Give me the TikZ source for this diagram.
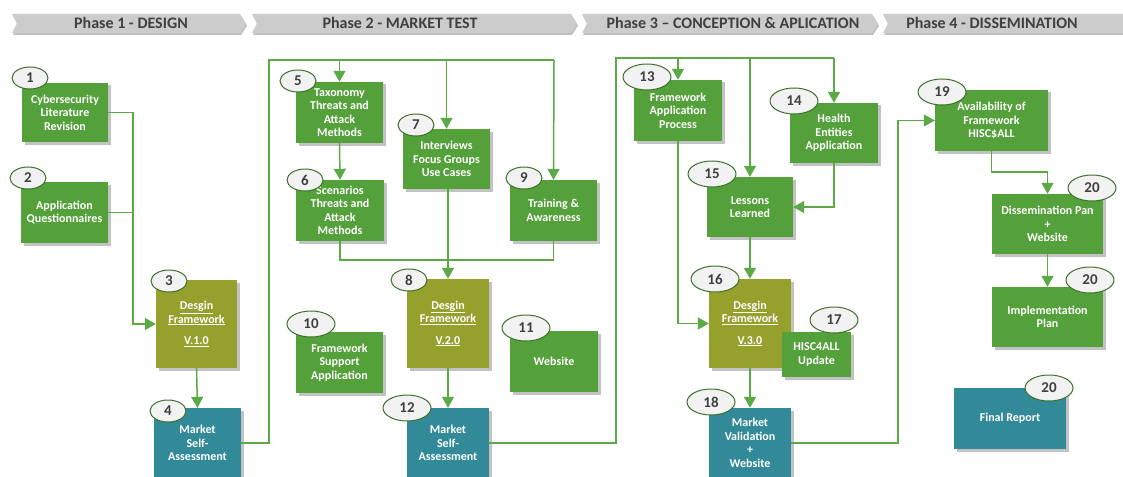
\documentclass[tikz,border=0pt]{standalone}
\usepackage{fontspec}
\setmainfont{Carlito}
\usetikzlibrary{shapes.geometric,shadows,arrows.meta,calc}
\definecolor{boxgreen}{RGB}{84,160,58}
\definecolor{boxolive}{RGB}{150,160,45}
\definecolor{boxteal}{RGB}{50,138,152}
\definecolor{linegreen}{RGB}{92,170,70}
\definecolor{badgeline}{RGB}{62,112,46}
\definecolor{badgefill}{RGB}{242,242,242}
\definecolor{badgetext}{RGB}{64,64,64}
\definecolor{bannergray}{RGB}{204,204,204}
\definecolor{bannertext}{RGB}{64,64,64}
\begin{document}
\begin{tikzpicture}[x=1pt,y=-1pt,
  box/.style={draw=none, text=white, font=\fontsize{12}{13.5}\selectfont\bfseries, align=center, inner sep=1pt,
    drop shadow={shadow xshift=2.5pt,shadow yshift=-2.5pt,opacity=0.4,fill=black!60}},
  gbox/.style={box, fill=boxgreen},
  obox/.style={box, fill=boxolive},
  tbox/.style={box, fill=boxteal},
  badge/.style={ellipse, draw=badgeline, line width=1pt, fill=badgefill, text=badgetext,
    font=\fontsize{15}{15}\selectfont\bfseries, inner sep=0pt, minimum width=36pt, minimum height=22pt},
  wbadge/.style={badge, minimum width=48pt, minimum height=26pt},
  conn/.style={draw=linegreen, line width=1.5pt},
  arr/.style={conn, -{Triangle[length=11pt,width=12pt]}},
  banner/.style={fill=bannergray, drop shadow={shadow xshift=1pt,shadow yshift=-2pt,opacity=0.5,fill=black!50}},
  phasetext/.style={text=bannertext, font=\fontsize{16}{16}\selectfont\bfseries, anchor=base, inner sep=0pt}
]
\useasboundingbox (0,0) rectangle (1123,476);

% phase banners
\path[banner] (12,14) -- (240,14) -- (246,23.5) -- (240,33) -- (12,33) -- (17,23.5) -- cycle;
\path[banner] (252,14) -- (571,14) -- (577,23.5) -- (571,33) -- (252,33) -- (257,23.5) -- cycle;
\path[banner] (582,14) -- (872,14) -- (878,23.5) -- (872,33) -- (582,33) -- (587,23.5) -- cycle;
\path[banner] (883,14) -- (1130,14) -- (1130,33) -- (883,33) -- (888,23.5) -- cycle;
\node[phasetext] (p1) at (131,28.5) {Phase 1 - DESIGN};
\node[phasetext] (p2) at (400,28.5) {Phase 2 - MARKET TEST};
\node[phasetext] (p3) at (733,28.5) {Phase 3 – CONCEPTION \& APLICATION};
\node[phasetext] (p4) at (992,28.5) {Phase 4 - DISSEMINATION};

% boxes
\node[gbox, minimum width=86pt, minimum height=59pt] (n1) at (65,112.5) {Cybersecurity\\Literature\\Revision};
\node[gbox, minimum width=87pt, minimum height=61pt] (n2) at (64.5,212.5) {Application\\Questionnaires};
\node[obox, minimum width=81pt, minimum height=88pt] (n3) at (196.5,324) {\underline{Desgin}\\\underline{Framework}\\[8pt]\underline{V.1.0}};
\node[tbox, minimum width=87pt, minimum height=70pt] (n4) at (197.5,443) {Market\\Self-\\Assessment};
\node[gbox, minimum width=87pt, minimum height=61pt] (n5) at (339.5,112.5) {Taxonomy\\Threats and\\Attack\\Methods};
\node[gbox, minimum width=88pt, minimum height=61pt] (n6) at (340,210.5) {Scenarios\\Threats and\\Attack\\Methods};
\node[gbox, minimum width=87pt, minimum height=60pt] (n7) at (446.5,159) {Interviews\\Focus Groups\\Use Cases};
\node[gbox, minimum width=87pt, minimum height=61pt] (n9) at (553.5,210.5) {Training \&\\Awareness};
\node[obox, minimum width=82pt, minimum height=89pt] (n8) at (448,323.5) {\underline{Desgin}\\\underline{Framework}\\[8pt]\underline{V.2.0}};
\node[gbox, minimum width=87pt, minimum height=61pt] (n10) at (339.5,362.5) {Framework\\Support\\Application};
\node[gbox, minimum width=88pt, minimum height=61pt] (n11) at (554,361.5) {Website};
\node[tbox, minimum width=82pt, minimum height=70pt] (n12) at (448,443) {Market\\Self-\\Assessment};
\node[gbox, minimum width=88pt, minimum height=61pt] (n13) at (678,110.5) {Framework\\Application\\Process};
\node[gbox, minimum width=88pt, minimum height=60pt] (n14) at (834,133) {Health\\Entities\\Application};
\node[gbox, minimum width=86pt, minimum height=60pt] (n15) at (750,207) {Lessons\\Learned};
\node[obox, minimum width=82pt, minimum height=89pt] (n16) at (750,323.5) {\underline{Desgin}\\\underline{Framework}\\[8pt]\underline{V.3.0}};
\node[gbox, minimum width=69pt, minimum height=45pt] (n17) at (816.5,354.5) {HISC4ALL\\Update};
\node[tbox, minimum width=82pt, minimum height=70pt] (n18) at (750,443) {Market\\Validation\\+\\Website};
\node[gbox, minimum width=113pt, minimum height=61pt] (n19) at (991.5,120.5) {Availability of\\Framework\\HISC\$ALL};
\node[gbox, minimum width=111pt, minimum height=60pt] (n20a) at (1047.5,224) {Dissemination Pan\\+\\Website};
\node[gbox, minimum width=111pt, minimum height=60pt] (n20b) at (1047.5,317) {Implementation\\Plan};
\node[tbox, minimum width=112pt, minimum height=61pt] (nfin) at (1010,418.5) {Final Report};

% connectors
\coordinate (j1) at (133,324);
\draw[conn] (n2.east) -- (n2.east -| j1);
\draw[arr] (n1.east) -| (j1) -- (n3.west);
\draw[arr] (n3.south) -- (n4.north);

\coordinate (t2a) at (269,60);
\coordinate (t2b) at (554,60);
\draw[conn] (n4.east) -| (t2a) -- (t2b);
\draw[arr] (t2b) -- (n9.north);
\draw[arr] (n5.north |- t2a) -- (n5.north);
\draw[arr] (n7.north |- t2a) -- (n7.north);
\draw[arr] (n5.south) -- (n6.north);
\draw[conn] (n6.south) -- ++(0,19) -| (n9.south);
\draw[arr] (n7.south -| n8.north) -- (n8.north);
\draw[arr] (n8.south) -- (n12.north);

\coordinate (t3a) at (616,58);
\coordinate (t3b) at (834,58);
\draw[conn] (n12.east) -| (t3a) -- (t3b);
\draw[arr] (t3b) -- (n14.north);
\draw[arr] (n13.north |- t3a) -- (n13.north);
\draw[arr] (n15.north |- t3a) -- (n15.north);
\draw[arr] (n14.south) |- (n15.east);
\draw[arr] (n15.south) -- (n16.north);
\draw[arr] (n13.south) |- (n16.west);
\draw[arr] (n16.south) -- (n18.north);

\coordinate (c19) at (898,120.5);
\draw[arr] (n18.east) -| (c19) -- (n19.west);
\draw[arr] (n19.south) -- ++(0,21) -| (n20a.north);
\draw[arr] (n20a.south) -- (n20b.north);

% badges
\node[badge] (b1) at (30,78) {1};
\node[badge] (b2) at (28,178) {2};
\node[badge] (b3) at (169,281) {3};
\node[badge] (b4) at (168,411) {4};
\node[badge] (b5) at (298,81) {5};
\node[badge] (b6) at (305,180) {6};
\node[badge] (b7) at (416,125) {7};
\node[badge] (b8) at (409,280) {8};
\node[badge] (b9) at (524,178) {9};
\node[wbadge] (b10) at (311,324) {10};
\node[wbadge] (b11) at (526,328) {11};
\node[wbadge] (b12) at (407,408) {12};
\node[wbadge] (b13) at (647,77) {13};
\node[wbadge] (b14) at (794,101) {14};
\node[wbadge] (b15) at (712,174) {15};
\node[wbadge] (b16) at (715,279) {16};
\node[wbadge] (b17) at (834,320) {17};
\node[wbadge] (b18) at (711,402) {18};
\node[wbadge] (b19) at (942,92) {19};
\node[wbadge] (b20a) at (1092,188) {20};
\node[wbadge] (b20b) at (1090,280) {20};
\node[wbadge] (b20c) at (1049,388) {20};
\end{tikzpicture}
\end{document}
